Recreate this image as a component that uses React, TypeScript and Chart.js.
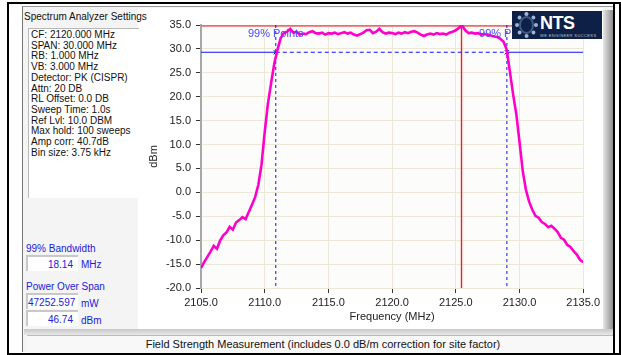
import React, { useEffect, useRef } from "react";
import { Chart, registerables } from "chart.js";

Chart.register(...registerables);

const freqs = [
  2105.0, 2105.25, 2105.5, 2105.75, 2106.0, 2106.25, 2106.5, 2106.75, 2107.0, 2107.25,
  2107.5, 2107.75, 2108.0, 2108.25, 2108.5, 2108.75, 2109.0, 2109.25, 2109.5, 2109.75,
  2110.0, 2110.25, 2110.5, 2110.75, 2111.0, 2111.25, 2111.5, 2111.75, 2112.0, 2112.25,
  2112.5, 2112.75, 2113.0, 2113.25, 2113.5, 2113.75, 2114.0, 2114.25, 2114.5, 2114.75,
  2115.0, 2115.25, 2115.5, 2115.75, 2116.0, 2116.25, 2116.5, 2116.75, 2117.0, 2117.25,
  2117.5, 2117.75, 2118.0, 2118.25, 2118.5, 2118.75, 2119.0, 2119.25, 2119.5, 2119.75,
  2120.0, 2120.25, 2120.5, 2120.75, 2121.0, 2121.25, 2121.5, 2121.75, 2122.0, 2122.25,
  2122.5, 2122.75, 2123.0, 2123.25, 2123.5, 2123.75, 2124.0, 2124.25, 2124.5, 2124.75,
  2125.0, 2125.25, 2125.5, 2125.75, 2126.0, 2126.25, 2126.5, 2126.75, 2127.0, 2127.25,
  2127.5, 2127.75, 2128.0, 2128.25, 2128.5, 2128.75, 2129.0, 2129.25, 2129.5, 2129.75,
  2130.0, 2130.25, 2130.5, 2130.75, 2131.0, 2131.25, 2131.5, 2131.75, 2132.0, 2132.25,
  2132.5, 2132.75, 2133.0, 2133.25, 2133.5, 2133.75, 2134.0, 2134.25, 2134.5, 2134.75,
  2135.0,
];

const levels = [
  -15.8, -14.6, -13.5, -12.4, -11.2, -11.8, -10.1, -9.0, -8.4, -7.2,
  -7.8, -6.3, -5.8, -5.2, -5.6, -4.1, -2.6, -1.0, 1.6, 5.8,
  12.6, 18.5, 22.8, 26.9, 29.8, 32.2, 33.3, 33.6, 34.2, 33.4,
  33.6, 33.0, 33.2, 33.1, 33.5, 33.7, 33.3, 33.2, 33.4, 33.0,
  33.3, 33.2, 33.4, 33.1, 33.3, 33.5, 33.2, 33.4, 33.0, 32.8,
  33.1, 33.4, 33.9, 34.0, 33.3, 33.6, 34.2, 33.5, 33.2, 33.4,
  33.3, 33.1, 33.4, 33.2, 33.5, 33.3, 33.6, 33.7, 33.4, 33.0,
  32.7, 33.0, 33.2, 33.0, 33.3, 33.1, 33.2, 33.0, 33.4, 33.6,
  33.9, 34.4, 34.8, 33.9, 33.3, 33.4, 33.2, 33.3, 33.0, 33.1,
  32.9, 32.8, 32.6, 32.5, 32.1, 31.5, 29.8, 25.2, 20.5, 16.4,
  10.6, 4.6, 0.6, -1.9, -3.6, -4.9, -5.3, -6.2, -6.6, -7.3,
  -7.0, -7.6, -8.3, -9.5, -9.9, -11.0, -11.4, -12.3, -13.0, -14.1,
  -14.6,
];

const xTicks = [2105, 2110, 2115, 2120, 2125, 2130, 2135];
const yTicks = [35, 30, 25, 20, 15, 10, 5, 0, -5, -10, -15, -20];

const peakFreq = 2125.45;
const peakLevel = 34.85;
const obwLow = 2110.87;
const obwHigh = 2129.01;
const obwLevel = 29.3;
const obwLabelLevel = 33.1;
const obwLabel = "99% Points";

const settingsLines = [
  "CF: 2120.000 MHz",
  "SPAN: 30.000 MHz",
  "RB: 1.000 MHz",
  "VB: 3.000 MHz",
  "Detector: PK (CISPR)",
  "Attn: 20 DB",
  "RL Offset: 0.0 DB",
  "Sweep Time: 1.0s",
  "Ref Lvl: 10.0 DBM",
  "Max hold: 100 sweeps",
  "Amp corr: 40.7dB",
  "Bin size: 3.75 kHz",
];

const bandwidthValue = "18.14";
const powerMw = "47252.597";
const powerDbm = "46.74";

const FONT = '"Liberation Sans", Arial, sans-serif';

const App = () => {
  const ref = useRef<HTMLCanvasElement | null>(null);

  useEffect(() => {
    if (!ref.current) return;
    const X0 = xTicks[0];
    const X1 = xTicks[xTicks.length - 1];
    const Y0 = yTicks[yTicks.length - 1];
    const Y1 = yTicks[0];
    const blue = "#1010ff";

    const bgPlugin = {
      id: "plotbg",
      beforeDraw(chart: any) {
        const { ctx, chartArea } = chart;
        ctx.save();
        ctx.fillStyle = "#fcfcfa";
        ctx.fillRect(chartArea.left, chartArea.top, chartArea.right - chartArea.left, chartArea.bottom - chartArea.top);
        ctx.restore();
      },
    };

    const labelPlugin = {
      id: "obwlabels",
      afterDatasetsDraw(chart: any) {
        const { ctx, scales } = chart;
        ctx.save();
        ctx.font = `11px ${FONT}`;
        ctx.fillStyle = "#4848ff";
        ctx.textAlign = "center";
        ctx.textBaseline = "middle";
        const y = scales.y.getPixelForValue(obwLabelLevel);
        ctx.fillText(obwLabel, scales.x.getPixelForValue(obwLow), y);
        ctx.fillText(obwLabel, scales.x.getPixelForValue(obwHigh), y);
        ctx.restore();
      },
    };

    const seg = (pts: number[][], color: string, width: number, dash: number[] = []) => ({
      data: pts.map((p) => ({ x: p[0], y: p[1] })),
      borderColor: color,
      borderWidth: width,
      borderDash: dash,
      pointRadius: 0,
      fill: false,
      tension: 0,
    });

    const chart = new Chart(ref.current, {
      type: "line",
      data: {
        datasets: [
          {
            data: freqs.map((f, i) => ({ x: f, y: levels[i] })),
            borderColor: "#ff00cc",
            borderWidth: 2.6,
            pointRadius: 0,
            fill: false,
            tension: 0,
          },
          {
            data: [
              { x: obwLow, y: obwLevel },
              { x: obwHigh, y: obwLevel },
            ],
            showLine: false,
            pointStyle: "crossRot",
            pointRadius: 3,
            pointBorderColor: "#0000aa",
            pointBorderWidth: 1,
            borderColor: "#0000aa",
          },
          {
            data: [
              { x: peakFreq - 0.12, y: peakLevel },
              { x: peakFreq + 0.12, y: peakLevel },
            ],
            showLine: false,
            pointStyle: "crossRot",
            pointRadius: 2,
            pointBorderColor: "#cc3333",
            pointBorderWidth: 1,
            borderColor: "#cc3333",
          },
          seg([[X0, obwLevel], [obwLow, obwLevel]], blue, 1),
          seg([[obwLow, obwLevel], [obwHigh, obwLevel]], blue, 1, [4, 3]),
          seg([[obwHigh, obwLevel], [X1, obwLevel]], blue, 1),
          seg([[obwLow, Y1], [obwLow, Y0]], blue, 1, [3, 3]),
          seg([[obwHigh, Y1], [obwHigh, Y0]], blue, 1, [3, 3]),
          seg([[peakFreq, peakLevel], [peakFreq, Y0]], "#ff1a1a", 1.4),
          seg([[X0, peakLevel], [X1, peakLevel]], "#f06a6a", 2),
        ] as any,
      },
      options: {
        animation: false,
        responsive: false,
        maintainAspectRatio: false,
        layout: { padding: { top: 17, right: 12, left: 0, bottom: 0 } },
        plugins: { legend: { display: false }, tooltip: { enabled: false } },
        scales: {
          x: {
            type: "linear",
            min: X0,
            max: X1,
            afterBuildTicks: (s: any) => {
              s.ticks = xTicks.map((v) => ({ value: v }));
            },
            afterFit: (s: any) => {
              s.height = 42;
            },
            ticks: {
              callback: (v: any) => Number(v).toFixed(1),
              font: { family: FONT, size: 11 },
              color: "#222",
              padding: 3,
              maxRotation: 0,
              autoSkip: false,
            },
            grid: { color: "#ece7d6", tickColor: "#333", tickLength: 5, lineWidth: 1 },
            border: { color: "#ece7d6" },
            title: {
              display: true,
              text: "Frequency (MHz)",
              font: { family: FONT, size: 11 },
              color: "#222",
              padding: { top: 0, bottom: 6 },
            },
          },
          y: {
            type: "linear",
            min: Y0,
            max: Y1,
            afterBuildTicks: (s: any) => {
              s.ticks = yTicks.map((v) => ({ value: v }));
            },
            afterFit: (s: any) => {
              s.width = 63;
            },
            ticks: {
              callback: (v: any) => Number(v).toFixed(1),
              font: { family: FONT, size: 11 },
              color: "#222",
              padding: 5,
              autoSkip: false,
            },
            grid: { color: "#ece7d6", tickColor: "#333", tickLength: 5, lineWidth: 1 },
            border: { color: "#a8a8a8", width: 2 },
            title: {
              display: true,
              text: "dBm",
              font: { family: FONT, size: 11 },
              color: "#222",
              padding: { top: 9, bottom: 0 },
            },
          },
        },
      } as any,
      plugins: [bgPlugin, labelPlugin],
    });
    return () => chart.destroy();
  }, []);

  const abs = (l: number, t: number, w: number, h: number, extra: any = {}) => ({
    position: "absolute" as const,
    left: l,
    top: t,
    width: w,
    height: h,
    boxSizing: "border-box" as const,
    ...extra,
  });

  const valueBox = (t: number, text: string, unit: string, unitTop: number) => (
    <>
      <div
        style={abs(26, t, 52, 16, {
          background: "#fff",
          borderTop: "2px solid #c8c8c8",
          borderLeft: "2px solid #c8c8c8",
          color: "#2020e0",
          textAlign: "right",
          paddingRight: 5,
          fontSize: 10,
          lineHeight: "15px",
          overflow: "hidden",
          whiteSpace: "nowrap",
        })}
      >
        {text}
      </div>
      <div style={abs(81, unitTop, 30, 12, { color: "#2020e0", fontSize: 10, lineHeight: "12px" })}>{unit}</div>
    </>
  );

  return (
    <div style={abs(0, 0, 621, 355, { position: "fixed", background: "#fff", fontFamily: FONT, overflow: "hidden" })}>
      <div style={abs(7, 2, 614, 353, { border: "2px solid #000" })} />
      <div style={abs(22, 6, 591, 346, { background: "#f4f4f4", borderLeft: "1px solid #777", borderTop: "1px solid #999" })} />
      <div style={abs(138, 8, 465, 321, { background: "#fff" })} />
      <div style={abs(603, 10, 10, 320, { background: "linear-gradient(to right, #e8e8e8, #8c8c8c)" })} />
      <div style={abs(613, 2, 2, 353, { background: "#000" })} />
      <div style={abs(24, 329, 589, 6, { background: "linear-gradient(to bottom, #c8c8c8, #e8e8e8)" })} />
      <div
        style={abs(27, 335, 586, 18, {
          background: "#f8f8f8",
          borderTop: "1px solid #bbb",
          textAlign: "center",
          fontSize: 11,
          lineHeight: "16px",
          color: "#111",
          paddingLeft: 6,
          whiteSpace: "nowrap",
        })}
      >
        Field Strength Measurement (includes 0.0 dB/m correction for site factor)
      </div>

      <div style={abs(24, 10, 130, 13, { fontSize: 10, lineHeight: "13px", color: "#111", whiteSpace: "nowrap" })}>
        Spectrum Analyzer Settings
      </div>
      <div
        style={abs(28, 28, 111, 170, {
          background: "#fff",
          borderTop: "1px solid #b8b8b8",
          borderLeft: "1px solid #b8b8b8",
          paddingLeft: 2,
          paddingTop: 1,
        })}
      >
        {settingsLines.map((s, i) => (
          <div key={i} style={{ fontSize: 10, lineHeight: "10.7px", color: "#111", whiteSpace: "nowrap" }}>
            {s}
          </div>
        ))}
      </div>

      <div style={abs(26, 242, 110, 13, { color: "#2020e0", fontSize: 10, lineHeight: "13px" })}>99% Bandwidth</div>
      {valueBox(255, bandwidthValue, "MHz", 259)}
      <div style={abs(26, 280, 110, 13, { color: "#2020e0", fontSize: 10, lineHeight: "13px" })}>Power Over Span</div>
      {valueBox(293, powerMw, "mW", 298)}
      {valueBox(310, powerDbm, "dBm", 315)}

      <canvas ref={ref} width={465} height={322} style={abs(138, 8, 465, 322, { display: "block" })} />

      <div style={abs(512, 11, 90, 28, { background: "#0e2046" })}>
        <div
          style={abs(3, 1, 23, 26, {
            borderRadius: "50%",
            border: "4px dotted #9fb4d4",
            boxShadow: "inset 0 0 0 2px #3e5a86",
          })}
        />
        <div
          style={abs(28, 2, 50, 20, {
            color: "#fff",
            fontWeight: "bold",
            fontSize: 18,
            lineHeight: "20px",
            letterSpacing: -0.5,
          })}
        >
          NTS
        </div>
        <div style={abs(28, 22, 62, 5, { color: "#b8c4d8", fontSize: 4, lineHeight: "5px", whiteSpace: "nowrap", letterSpacing: 0.4 })}>
          WE ENGINEER SUCCESS
        </div>
      </div>
    </div>
  );
};

export default App;
